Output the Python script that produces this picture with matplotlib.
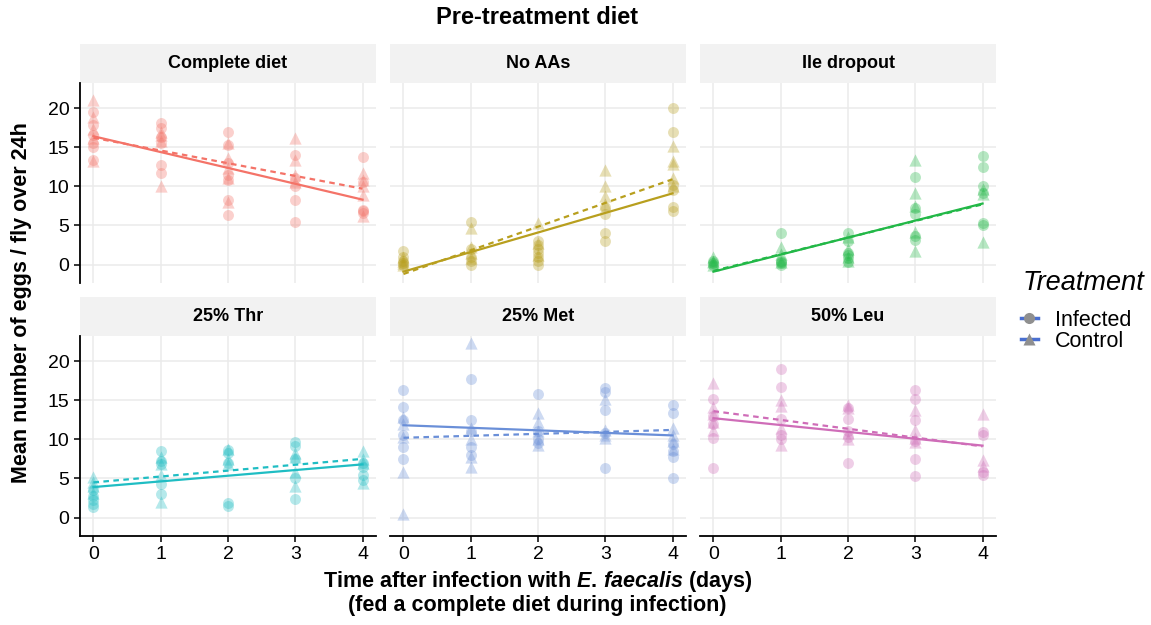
import matplotlib
matplotlib.use("Agg")
import matplotlib.pyplot as plt
from matplotlib.patches import Rectangle
from matplotlib.lines import Line2D

plt.rcParams['font.family'] = ['Liberation Sans', 'DejaVu Sans']
plt.rcParams['mathtext.fontset'] = 'custom'
plt.rcParams['mathtext.it'] = 'Liberation Sans:italic:bold'
plt.rcParams['mathtext.rm'] = 'Liberation Sans:bold'

# ---- data (eggs / fly over 24h), one list per day 0..4 ----
days = [0, 1, 2, 3, 4]
diets = ["Complete diet", "No AAs", "Ile dropout", "25% Thr", "25% Met", "50% Leu"]
colors = ["#F47368", "#B89F1E", "#22B847", "#1FBDC3", "#6A8FD8", "#CF6DB8"]

complete_inf = [[19.5, 17.8, 16.5, 15.5, 15.0, 13.3], [18.1, 17.5, 16.3, 15.5, 12.7, 11.7],
                [17.0, 15.3, 13.0, 11.5, 10.8, 8.2, 6.4], [14.0, 11.0, 10.0, 8.3, 5.4],
                [13.7, 10.5, 7.0, 6.8, 6.6]]
complete_ctl = [[21.0, 18.8, 17.3, 16.2, 13.2], [17.0, 16.5, 15.8, 10.0],
                [15.5, 13.6, 12.3, 11.0, 8.0], [16.2, 13.4, 11.5, 10.5],
                [11.7, 10.8, 10.0, 8.9, 6.2]]
noaa_inf = [[1.8, 1.0, 0.5, 0.2, 0.0], [5.5, 2.0, 1.0, 0.5, 0.0],
            [3.0, 2.5, 2.0, 1.5, 1.0, 0.5, 0.0], [7.3, 6.5, 4.0, 3.0],
            [20.0, 17.0, 10.2, 9.5, 7.3, 6.8]]
noaa_ctl = [[1.0, 0.5, 0.2, 0.0], [4.7, 2.2, 1.5, 0.8], [5.3, 2.8, 1.2],
            [12.1, 10.0, 8.8, 7.8], [15.1, 13.2, 12.8, 11.0, 10.0]]
ile_inf = [[0.5, 0.2, 0.0], [4.0, 0.5, 0.3, 0.2, 0.0], [4.0, 3.0, 1.5, 1.2, 0.8, 0.3],
           [11.2, 7.2, 6.5, 3.6, 3.1], [13.9, 12.5, 10.0, 9.2, 5.3, 5.0]]
ile_ctl = [[1.0, 0.5, 0.3, 0.0], [2.2, 1.3, 0.3], [3.5, 2.0, 1.0, 0.5],
           [13.4, 9.1, 7.5, 4.2, 1.7], [9.7, 9.0, 2.9]]
thr_inf = [[3.5, 2.8, 2.2, 1.8, 1.4], [8.5, 7.2, 6.8, 4.3, 3.0], [8.6, 8.3, 7.0, 1.9, 1.5],
           [9.7, 9.2, 7.5, 5.0, 2.4], [7.0, 6.5, 5.5, 4.8]]
thr_ctl = [[5.2, 4.5, 4.0, 3.2], [7.7, 6.9, 5.5, 2.0], [8.8, 7.5, 6.8],
           [8.3, 7.8, 5.8, 4.0], [8.5, 7.5, 7.0, 4.4]]
met_inf = [[16.3, 14.1, 12.5, 10.5, 9.0, 7.5], [17.7, 12.5, 11.0, 9.0, 8.0],
           [15.8, 11.0, 10.0, 9.5], [16.6, 16.1, 13.8, 10.8, 6.4],
           [14.4, 13.3, 9.4, 8.5, 7.8, 5.1]]
met_ctl = [[12.8, 12.0, 10.3, 5.8, 0.5], [22.3, 11.4, 10.0, 7.8, 6.5],
           [13.3, 12.2, 11.0, 10.0, 9.3], [15.2, 11.2, 10.6, 10.2], [11.4, 10.5, 9.8, 8.8]]
leu_inf = [[15.1, 13.0, 12.0, 10.2, 6.4], [19.0, 16.7, 12.6, 10.5, 10.0],
           [14.0, 12.6, 11.0, 10.3, 7.0], [16.3, 15.1, 12.5, 9.8, 7.5, 5.3],
           [10.9, 10.6, 5.8, 5.5]]
leu_ctl = [[17.2, 14.1, 13.2, 12.2, 11.2], [15.0, 14.2, 11.5, 9.3],
           [14.4, 14.0, 10.8, 10.0], [13.7, 11.2, 10.2, 9.6], [13.2, 7.3, 6.6]]

infected = [complete_inf, noaa_inf, ile_inf, thr_inf, met_inf, leu_inf]
control = [complete_ctl, noaa_ctl, ile_ctl, thr_ctl, met_ctl, leu_ctl]

# linear fits (value at day 0 and day 4)
inf_fit_start = [16.4, -0.9, -0.9, 3.9, 11.8, 12.7]
inf_fit_end = [8.3, 9.1, 7.8, 6.8, 10.5, 9.2]
ctl_fit_start = [16.2, -1.2, -0.8, 4.5, 10.2, 13.6]
ctl_fit_end = [9.7, 10.9, 7.7, 7.5, 11.2, 9.1]

W, H = 1151, 625
fig = plt.figure(figsize=(W / 100, H / 100), dpi=100)

col_left = [80, 390, 700]
panel_w = 296
row_top = [83, 336]
panel_h = 200
strip_h = 39

for i, diet in enumerate(diets):
    r, c = divmod(i, 3)
    ax = fig.add_axes([col_left[c] / W, 1 - (row_top[r] + panel_h) / H,
                       panel_w / W, panel_h / H])
    col = colors[i]
    for d, vals in zip(days, infected[i]):
        ax.scatter([d] * len(vals), vals, marker='o', s=62, color=col,
                   alpha=0.33, linewidths=0, zorder=2)
    for d, vals in zip(days, control[i]):
        ax.scatter([d] * len(vals), vals, marker='^', s=78, color=col,
                   alpha=0.33, linewidths=0, zorder=2)
    ax.plot([days[0], days[-1]], [inf_fit_start[i], inf_fit_end[i]],
            color=col, lw=1.6, zorder=3)
    ax.plot([days[0], days[-1]], [ctl_fit_start[i], ctl_fit_end[i]],
            color=col, lw=1.6, ls=(0, (2.5, 2.0)), zorder=3)

    ax.set_xlim(-0.2, 4.2)
    ax.set_ylim(-2.35, 23.2)
    ax.set_xticks(days)
    ax.set_yticks([0, 5, 10, 15, 20])
    ax.grid(color='#EBEBEB', lw=1.1)
    ax.set_axisbelow(True)
    for s in ax.spines.values():
        s.set_visible(False)
    ax.tick_params(labelsize=14, colors='black', width=1.1, length=4.5, pad=3)

    if c == 0:
        ax.spines['left'].set_visible(True)
        ax.spines['left'].set_linewidth(1.3)
    else:
        ax.tick_params(axis='y', length=0, labelleft=False)
    if r == 1:
        ax.spines['bottom'].set_visible(True)
        ax.spines['bottom'].set_linewidth(1.3)
    else:
        ax.tick_params(axis='x', length=0, labelbottom=False)

    # facet strip
    sh = strip_h / panel_h
    ax.add_patch(Rectangle((0, 1), 1, sh, transform=ax.transAxes,
                           facecolor='#F2F2F2', edgecolor='none', clip_on=False))
    ax.text(0.5, 1 + sh / 2, diet, transform=ax.transAxes, ha='center',
            va='center', fontsize=13, fontweight='bold')

fig.text(537.5 / W, 1 - 18 / H, "Pre-treatment diet", ha='center', va='center',
         fontsize=17, fontweight='bold')
fig.text(537.5 / W, 1 - 582 / H,
         r"Time after infection with $\mathit{E.\,faecalis}$ (days)",
         ha='center', va='center', fontsize=15.5, fontweight='bold')
fig.text(537.5 / W, 1 - 605 / H, "(fed a complete diet during infection)",
         ha='center', va='center', fontsize=15.5, fontweight='bold')
fig.text(22 / W, 1 - 303 / H, "Mean number of eggs / fly over 24h", rotation=90,
         ha='center', va='center', fontsize=15.5, fontweight='bold')

handles = [
    Line2D([0], [0], color='#4A6FD0', lw=2.5, marker='o', markersize=8,
           markerfacecolor='#8F8F8F', markeredgecolor='none'),
    Line2D([0], [0], color='#4A6FD0', lw=2.5, marker='^', markersize=9,
           markerfacecolor='#8F8F8F', markeredgecolor='none'),
]
fig.text(1023 / W, 1 - 283 / H, "Treatment", ha='left', va='center',
         fontsize=19.5, fontstyle='italic')
fig.legend(handles, ["Infected", "Control"], loc='upper left',
           bbox_to_anchor=(1012 / W, 1 - 301 / H), frameon=False,
           fontsize=15.5, handlelength=0.8, handletextpad=0.8, labelspacing=0.0,
           borderaxespad=0)

fig.savefig("out.png", dpi=100)
